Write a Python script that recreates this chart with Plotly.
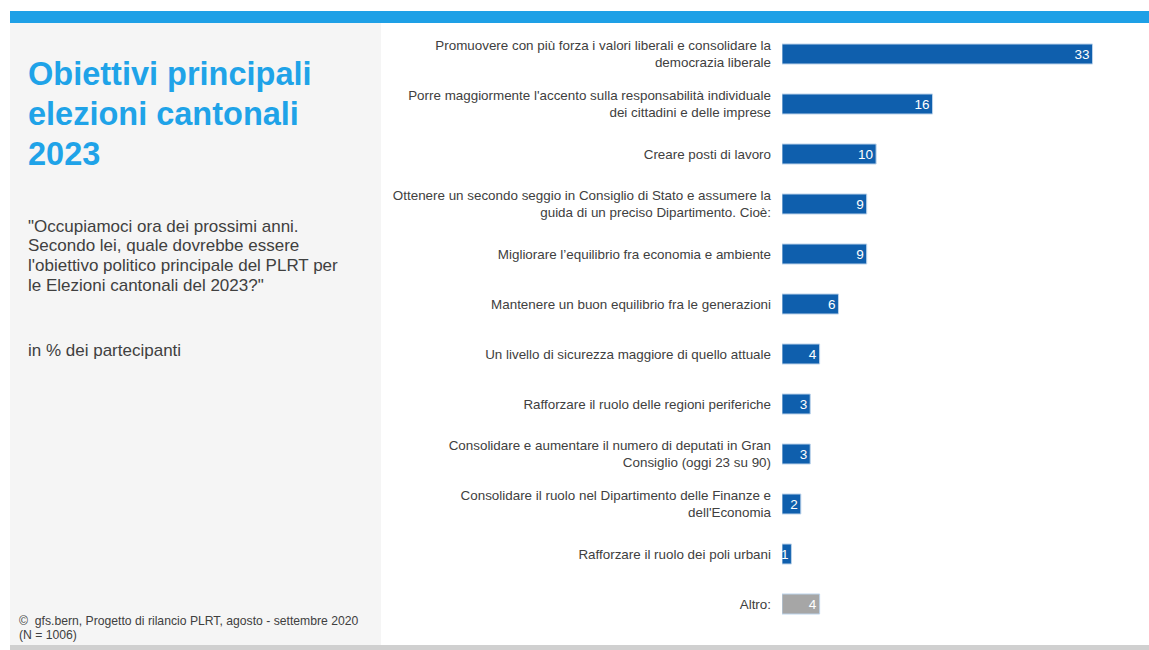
import plotly.graph_objects as go

BLUE = "#0f5fad"
GREY_BAR = "#a6a6a6"
TITLE_BLUE = "#1fa3e8"
TEXT = "#404040"
PANEL = "#f5f5f5"

categories = [
    "Promuovere con più forza i valori liberali e consolidare la<br>democrazia liberale",
    "Porre maggiormente l'accento sulla responsabilità individuale<br>dei cittadini e delle imprese",
    "Creare posti di lavoro",
    "Ottenere un secondo seggio in Consiglio di Stato e assumere la<br>guida di un preciso Dipartimento. Cioè:",
    "Migliorare l’equilibrio fra economia e ambiente",
    "Mantenere un buon equilibrio fra le generazioni",
    "Un livello di sicurezza maggiore di quello attuale",
    "Rafforzare il ruolo delle regioni periferiche",
    "Consolidare e aumentare il numero di deputati in Gran<br>Consiglio (oggi 23 su 90)",
    "Consolidare il ruolo nel Dipartimento delle Finanze e<br>dell'Economia",
    "Rafforzare il ruolo dei poli urbani",
    "Altro:",
]
values = [33, 16, 10, 9, 9, 6, 4, 3, 3, 2, 1, 4]
bar_colors = [BLUE] * 11 + [GREY_BAR]

title_lines = ["Obiettivi principali", "elezioni cantonali", "2023"]
question_lines = [
    '"Occupiamoci ora dei prossimi anni.',
    "Secondo lei, quale dovrebbe essere",
    "l'obiettivo politico principale del PLRT per",
    'le Elezioni cantonali del 2023?"',
]
unit_text = "in % dei partecipanti"
source_lines = ["©  gfs.bern, Progetto di rilancio PLRT, agosto - settembre 2020", "(N = 1006)"]

W, H = 1149, 650
FONT = "Liberation Sans, Arial, sans-serif"


def px_x(x):
    return x / W


def px_y(y):
    return 1 - y / H


fig = go.Figure(
    go.Bar(
        x=values,
        y=categories,
        orientation="h",
        width=0.4,
        marker=dict(color=bar_colors, line=dict(color="#bcd3ea", width=1)),
        text=values,
        textposition="inside",
        insidetextanchor="end",
        textangle=0,
        constraintext="none",
        textfont=dict(color="white", size=13.5, family=FONT),
        cliponaxis=False,
        hoverinfo="skip",
    )
)

fig.update_layout(
    width=W,
    height=H,
    margin=dict(l=0, r=0, t=0, b=0),
    paper_bgcolor="white",
    plot_bgcolor="white",
    showlegend=False,
    font=dict(family=FONT, color=TEXT),
    xaxis=dict(domain=[px_x(782), 1], range=[0, 39], visible=False, fixedrange=True),
    yaxis=dict(
        domain=[px_y(629), px_y(29)],
        range=[11.5, -0.5],
        showgrid=False,
        zeroline=False,
        showline=False,
        ticks="",
        ticklabelstandoff=10,
        tickfont=dict(size=13.4, color=TEXT, family=FONT),
        fixedrange=True,
    ),
)

fig.update_layout(shapes=[
    # top blue band
    dict(type="rect", xref="paper", yref="paper", x0=px_x(10), x1=1, y0=px_y(23), y1=px_y(11),
         fillcolor="#1ea0e6", line_width=0, layer="below"),
    # left grey panel
    dict(type="rect", xref="paper", yref="paper", x0=px_x(10), x1=px_x(381), y0=px_y(645), y1=px_y(23),
         fillcolor=PANEL, line_width=0, layer="below"),
    # bottom grey line
    dict(type="rect", xref="paper", yref="paper", x0=px_x(10), x1=1, y0=0, y1=px_y(645),
         fillcolor="#d0d0d0", line_width=0, layer="below"),
])


def add_lines(lines, x, y_first, step, size, color, bold=False):
    for i, line in enumerate(lines):
        fig.add_annotation(
            text=f"<b>{line}</b>" if bold else line,
            xref="paper", yref="paper", x=px_x(x), y=px_y(y_first + i * step),
            xanchor="left", yanchor="middle", showarrow=False, align="left",
            font=dict(size=size, color=color, family=FONT),
        )


add_lines(title_lines, 26, 74, 40, 32.5, TITLE_BLUE, bold=True)
add_lines(question_lines, 26, 226, 19.7, 17, TEXT)
add_lines([unit_text], 26, 350, 0, 17, TEXT)
add_lines(source_lines, 17, 621, 14, 12.2, TEXT)

fig.write_html(
    "out.html",
    config={"displayModeBar": False},
    post_script="document.body.style.margin='0';",
)
